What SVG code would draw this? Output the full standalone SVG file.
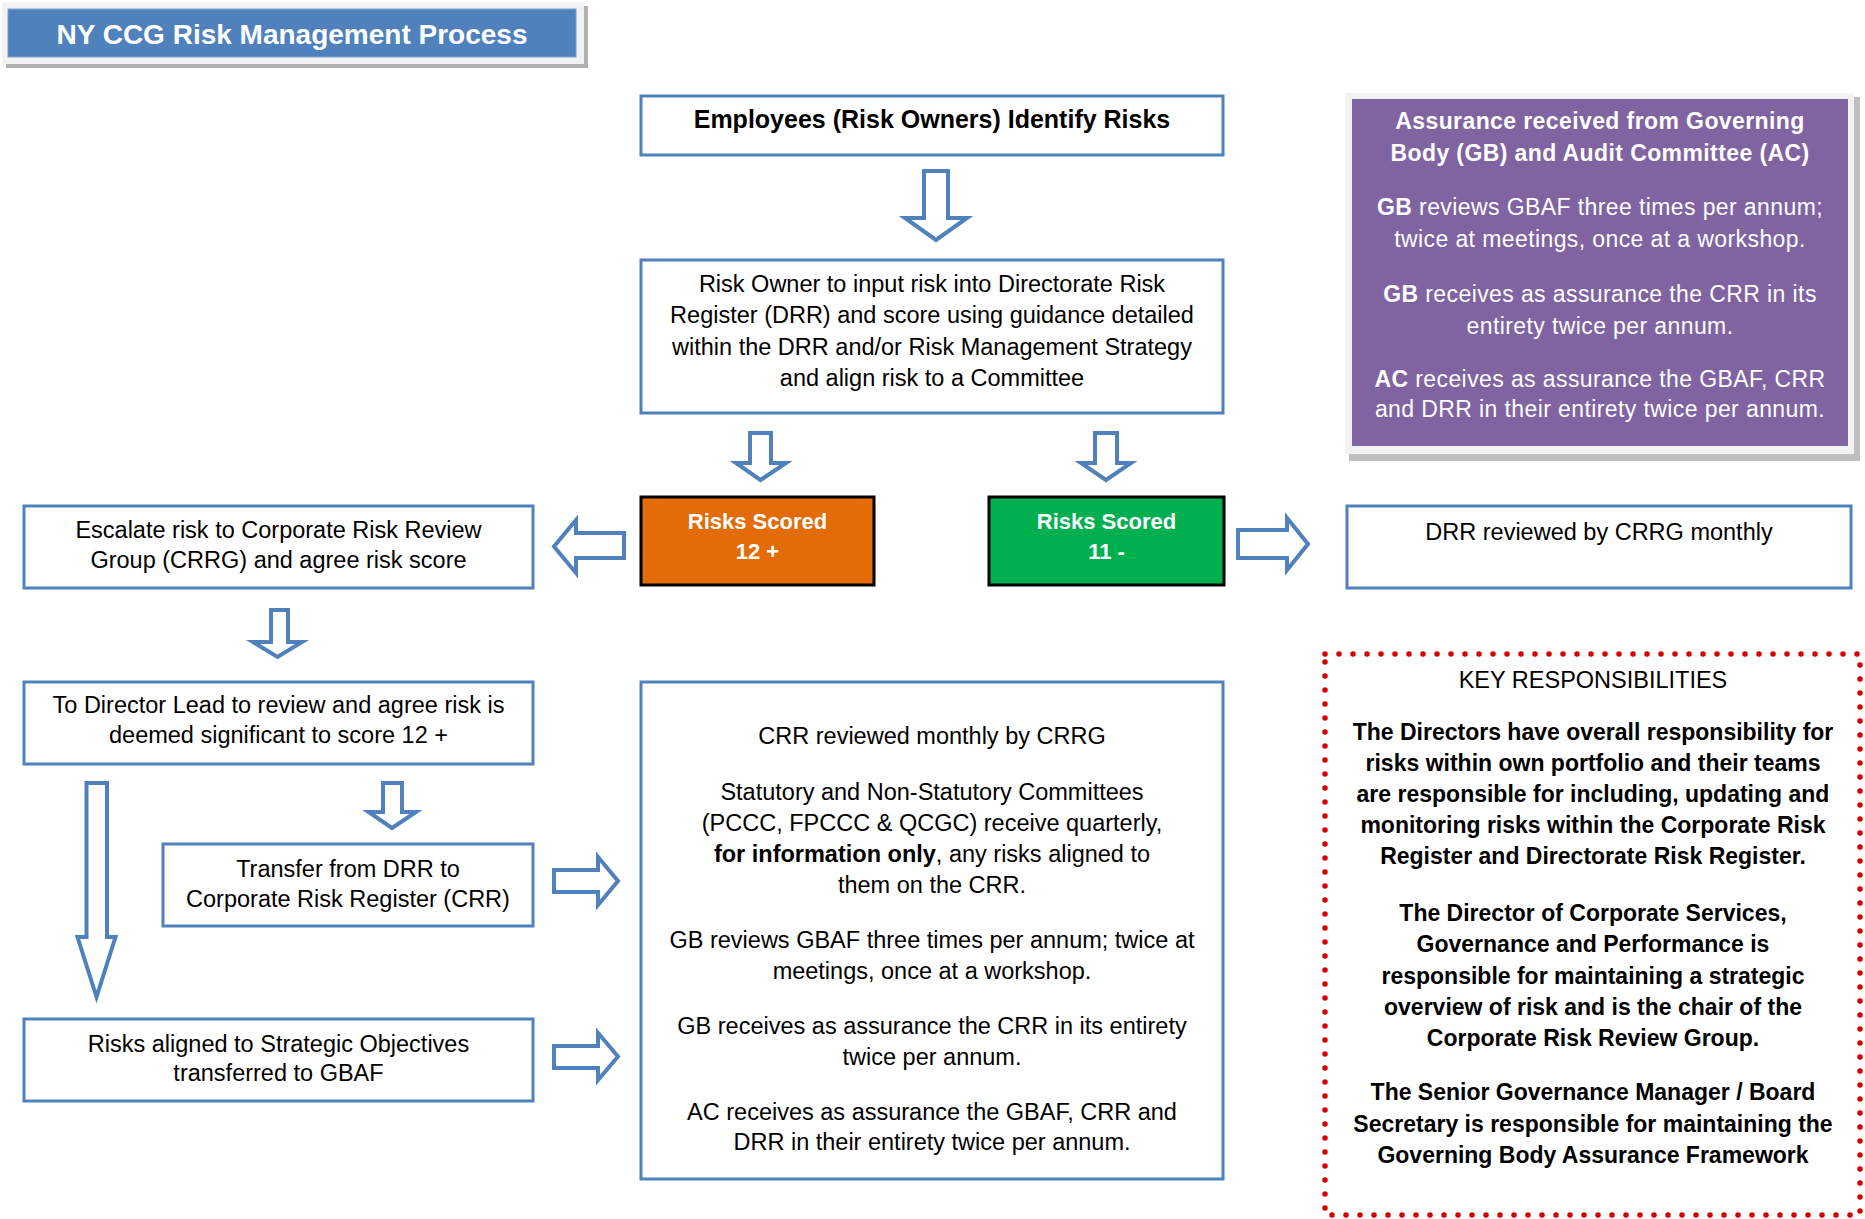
<svg xmlns="http://www.w3.org/2000/svg" width="1865" height="1219" viewBox="0 0 1865 1219">
<style>
text{font-family:"Liberation Sans",Arial,sans-serif;text-anchor:middle}
.t{font-size:23.5px;fill:#000}
.tb{font-size:23px;font-weight:bold;fill:#000}
.w{font-size:23px;fill:#fff;letter-spacing:0.4px}
.sc{font-size:22px;font-weight:bold;fill:#fff}
.box{fill:#fff;stroke:#4F81BD;stroke-width:3}
.arr{fill:#fff;stroke:#4F81BD;stroke-width:4;stroke-linejoin:miter}
</style>
<rect width="1865" height="1219" fill="#fff"/>
<g id="title">
<rect x="6" y="6" width="582" height="62" fill="#B0B0B0"/>
<rect x="2" y="2" width="582" height="62" fill="#F2F2F2"/>
<rect x="8" y="9" width="568" height="48" fill="#4F81BD" stroke="#7FA2D0" stroke-width="1"/>
<text x="292" y="44" style="font-size:28px;font-weight:bold;fill:#fff">NY CCG Risk Management Process</text>
</g>
<g id="connectors">
<path class="arr" d="M924,171 H948 V218 H967 L936,240 L905,218 H924 Z"/>
<path class="arr" d="M750,433 H771 V463 H786 L760.5,480 L736,463 H750 Z"/>
<path class="arr" d="M1095,433 H1117 V463 H1131 L1106,480 L1081,463 H1095 Z"/>
<path class="arr" d="M624,533 V558 H576 V573 L554,546.5 L576,520 V533 Z"/>
<path class="arr" d="M1238,530 H1287 V518 L1308,544 L1287,570 V558 H1238 Z"/>
<path class="arr" d="M271,610 H288 V642 H302 L277.5,657 L253,642 H271 Z"/>
<path class="arr" d="M86.5,783 H107 V937 H115.5 L96.5,997 L77.5,937 H86.5 Z"/>
<path class="arr" d="M383,783 H402 V812 H416 L392,828 L368.5,812 H383 Z"/>
<path class="arr" d="M554,870 H598 V857 L618,881 L598,905 V892 H554 Z"/>
<path class="arr" d="M554,1046 H598 V1033 L618,1056.5 L598,1080 V1068 H554 Z"/>
</g>
<g id="identify">
<rect class="box" x="641" y="96" width="582" height="59"/>
<text x="932" y="128" style="font-size:25px;font-weight:bold">Employees (Risk Owners) Identify Risks</text>
</g>
<g id="input">
<rect class="box" x="641" y="260" width="582" height="153"/>
<text class="t" x="932" y="292">Risk Owner to input risk into Directorate Risk</text>
<text class="t" x="932" y="323">Register (DRR)  and score using guidance detailed</text>
<text class="t" x="932" y="355">within the DRR and/or Risk Management Strategy</text>
<text class="t" x="932" y="386">and align risk to a Committee</text>
</g>
<g id="scored-high">
<rect x="641" y="497" width="233" height="88" fill="#E36C09" stroke="#000" stroke-width="3"/>
<text class="sc" x="757.5" y="529">Risks Scored</text>
<text class="sc" x="757.5" y="559">12 +</text>
</g>
<g id="scored-low">
<rect x="989" y="497" width="235" height="88" fill="#00B050" stroke="#000" stroke-width="3"/>
<text class="sc" x="1106.5" y="529">Risks Scored</text>
<text class="sc" x="1106.5" y="559">11 -</text>
</g>
<g id="escalate">
<rect class="box" x="24" y="506" width="509" height="82"/>
<text class="t" x="278.5" y="538">Escalate risk to Corporate Risk Review</text>
<text class="t" x="278.5" y="568">Group (CRRG)  and agree risk score</text>
</g>
<g id="drr-reviewed">
<rect class="box" x="1347" y="506" width="504" height="82"/>
<text class="t" x="1599" y="540">DRR reviewed by CRRG monthly</text>
</g>
<g id="director">
<rect class="box" x="24" y="682" width="509" height="82"/>
<text class="t" x="278.5" y="713">To Director Lead to review and agree risk is</text>
<text class="t" x="278.5" y="743">deemed significant to score 12 +</text>
</g>
<g id="transfer">
<rect class="box" x="163" y="844" width="370" height="82"/>
<text class="t" x="348" y="877">Transfer from DRR to</text>
<text class="t" x="348" y="907">Corporate Risk Register (CRR)</text>
</g>
<g id="aligned">
<rect class="box" x="24" y="1019" width="509" height="82"/>
<text class="t" x="278.5" y="1052">Risks aligned to Strategic Objectives</text>
<text class="t" x="278.5" y="1081">transferred to GBAF</text>
</g>
<g id="crr">
<rect class="box" x="641" y="682" width="582" height="497"/>
<text class="t" x="932" y="744">CRR  reviewed  monthly by CRRG</text>
<text class="t" x="932" y="800">Statutory and Non-Statutory Committees</text>
<text class="t" x="932" y="831">(PCCC,  FPCCC &amp; QCGC)  receive  quarterly,</text>
<text class="t" x="932" y="862"><tspan font-weight="bold">for information  only</tspan>, any risks aligned to</text>
<text class="t" x="932" y="893">them on the CRR.</text>
<text class="t" x="932" y="948">GB reviews  GBAF three times per annum; twice at</text>
<text class="t" x="932" y="979">meetings, once at a workshop.</text>
<text class="t" x="932" y="1034">GB receives as assurance the CRR in its entirety</text>
<text class="t" x="932" y="1065">twice per annum.</text>
<text class="t" x="932" y="1120">AC receives as assurance the GBAF, CRR and</text>
<text class="t" x="932" y="1150">DRR in their entirety twice per annum.</text>
</g>
<g id="assurance">
<rect x="1349" y="97" width="511" height="364" fill="#BFBFBF"/>
<rect x="1345" y="93" width="509" height="361" fill="#F2F2F2"/>
<rect x="1352" y="99" width="496" height="347" fill="#8064A2"/>
<text class="w" x="1600" y="129" font-weight="bold">Assurance  received  from Governing</text>
<text class="w" x="1600" y="161" font-weight="bold">Body (GB) and Audit Committee  (AC)</text>
<text class="w" x="1600" y="215"><tspan font-weight="bold">GB</tspan> reviews  GBAF three  times  per annum;</text>
<text class="w" x="1600" y="247">twice at meetings, once at a workshop.</text>
<text class="w" x="1600" y="302"><tspan font-weight="bold">GB</tspan> receives as assurance the CRR in its</text>
<text class="w" x="1600" y="334">entirety twice per annum.</text>
<text class="w" x="1600" y="387"><tspan font-weight="bold">AC</tspan> receives as assurance the GBAF, CRR</text>
<text class="w" x="1600" y="417">and DRR in their entirety twice per annum.</text>
</g>
<g id="key-responsibilities">
<rect x="1325" y="654" width="535" height="561" fill="none" stroke="#D40000" stroke-width="5.5" stroke-dasharray="0 14" stroke-linecap="round"/>
<text x="1593" y="688" style="font-size:23.5px;fill:#000">KEY RESPONSIBILITIES</text>
<text class="tb" x="1593" y="740">The Directors  have overall responsibility for</text>
<text class="tb" x="1593" y="771">risks within own portfolio and their teams</text>
<text class="tb" x="1593" y="802">are responsible for including, updating and</text>
<text class="tb" x="1593" y="833">monitoring risks within the Corporate  Risk</text>
<text class="tb" x="1593" y="864">Register and Directorate  Risk Register.</text>
<text class="tb" x="1593" y="921">The Director of Corporate  Services,</text>
<text class="tb" x="1593" y="952">Governance  and Performance  is</text>
<text class="tb" x="1593" y="984">responsible  for maintaining  a strategic</text>
<text class="tb" x="1593" y="1015">overview of risk and is the chair of the</text>
<text class="tb" x="1593" y="1046">Corporate Risk Review Group.</text>
<text class="tb" x="1593" y="1100">The Senior Governance  Manager / Board</text>
<text class="tb" x="1593" y="1132">Secretary  is responsible for maintaining the</text>
<text class="tb" x="1593" y="1163">Governing Body Assurance  Framework</text>
</g>
</svg>
